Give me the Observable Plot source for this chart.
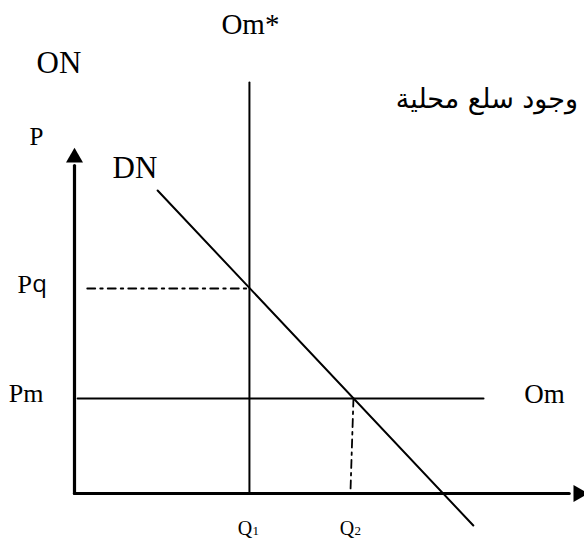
<!DOCTYPE html>
<html><head><meta charset="utf-8">
<script src="https://cdn.jsdelivr.net/npm/d3@7"></script>
<script src="https://cdn.jsdelivr.net/npm/@observablehq/plot@0.6"></script>
<style>html,body{margin:0;padding:0;background:#fff} #chart svg{display:block}</style>
</head><body><div id="chart"></div>
<script>
// Quantity (Q) and price (P) values, in chart units
const demandDN = [{q: 16.3, p: 75.75}, {q: 78.2, p: -8}];
const importSupplyOm = [{q: 0.6, p: 23.75}, {q: 80.2, p: 23.75}];
const quotaSupplyOmStar = [{q: 34.3, p: 0}, {q: 34.3, p: 102.75}];
const pqGuide = [{q: 2.5, p: 51.25}, {q: 34.3, p: 51.25}];
const q2Guide = [{q: 54.7, p: 23.75}, {q: 54.1, p: 0}];
const axisQ = [{q: 0, p: 0}, {q: 97, p: 0}];
const axisP = [{q: 0, p: 0}, {q: 0, p: 82}];
const arrowHeads = [{q: 0, p: 84, angle: 0}, {q: 98.8, p: 0, angle: 90}];

// Labels
const curveLabels = [
  {text: "Om*", q: 28.8, p: 117.25, size: 29},
  {text: "ON", q: -7.45, p: 107.5, size: 31},
  {text: "DN", q: 7.45, p: 81.25, size: 31},
  {text: "Om", q: 88.2, p: 24.75, size: 27}
];
const axisLabels = [
  {text: "P", q: -8.8, p: 89.25, size: 25},
  {text: "P", q: -11.2, p: 52.25, size: 26},
  {text: "Pm", q: -12.9, p: 25, size: 26}
];
const sansLabels = [{text: "q", q: -8.3, p: 52.25, size: 24}];
const qTickLetters = [{text: "Q", q: 32.0, p: -8.75}, {text: "Q", q: 52.0, p: -8.75}];
const qTickSubs = [{text: "1", q: 34.9, p: -9.4}, {text: "2", q: 54.9, p: -9.4}];
const arabicNote = [{text: "وجود سلع محلية", q: 63.0, p: 98.5}];

const serif = "Liberation Serif, Times New Roman, serif";
const chart = Plot.plot({
  width: 584,
  height: 538,
  marginLeft: 74,
  marginRight: 0,
  marginTop: 93,
  marginBottom: 45,
  x: {domain: [0, 100], axis: null},
  y: {domain: [0, 100], axis: null},
  style: {background: "#fff", color: "#000", overflow: "visible"},
  marks: [
    Plot.line(axisQ, {x: "q", y: "p", stroke: "#000", strokeWidth: 3.2}),
    Plot.line(axisP, {x: "q", y: "p", stroke: "#000", strokeWidth: 3.2}),
    Plot.dot(arrowHeads, {x: "q", y: "p", symbol: "triangle", r: 6.3, fill: "#000", stroke: null, rotate: "angle"}),
    Plot.line(quotaSupplyOmStar, {x: "q", y: "p", stroke: "#000", strokeWidth: 2}),
    Plot.line(importSupplyOm, {x: "q", y: "p", stroke: "#000", strokeWidth: 2}),
    Plot.line(demandDN, {x: "q", y: "p", stroke: "#000", strokeWidth: 2}),
    Plot.line(pqGuide, {x: "q", y: "p", stroke: "#000", strokeWidth: 1.8, strokeDasharray: "8,5,2.5,5"}),
    Plot.line(q2Guide, {x: "q", y: "p", stroke: "#000", strokeWidth: 1.8, strokeDasharray: "8,5,2.5,5"}),
    Plot.text(curveLabels, {x: "q", y: "p", text: "text", fontSize: d => d.size, textAnchor: "start", fontFamily: serif, fill: "#000"}),
    Plot.text(axisLabels, {x: "q", y: "p", text: "text", fontSize: d => d.size, textAnchor: "start", fontFamily: serif, fill: "#000"}),
    Plot.text(sansLabels, {x: "q", y: "p", text: "text", fontSize: d => d.size, textAnchor: "start", fontFamily: "Open Sans, Liberation Sans, sans-serif", fill: "#000"}),
    Plot.text(qTickLetters, {x: "q", y: "p", text: "text", fontSize: 20, textAnchor: "start", fontFamily: serif, fill: "#000"}),
    Plot.text(qTickSubs, {x: "q", y: "p", text: "text", fontSize: 13, textAnchor: "start", fontFamily: serif, fill: "#000"}),
    Plot.text(arabicNote, {x: "q", y: "p", text: "text", fontSize: 27, textAnchor: "start", fontFamily: "DejaVu Sans, serif", fill: "#000"})
  ]
});
document.getElementById("chart").appendChild(chart);
</script>
</body></html>
